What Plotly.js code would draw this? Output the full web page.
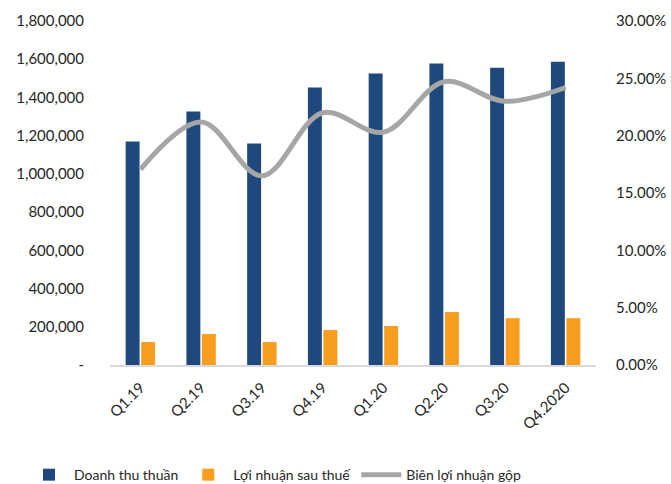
<!DOCTYPE html>
<html><head><meta charset="utf-8">
<script src="https://cdn.plot.ly/plotly-3.0.1.min.js"></script>
<style>html,body{margin:0;padding:0;background:#fff}#c{width:671px;height:484px}</style>
</head><body><div id="c"></div>
<script>
const categories = ["Q1.19","Q2.19","Q3.19","Q4.19","Q1.20","Q2.20","Q3.20","Q4.2020"];
const revenue = [1170000,1326000,1159000,1452000,1525000,1577000,1556000,1587000];
const profit = [120000,162000,120000,183000,204000,277000,245000,245000];
const grossMargin = [0.1706,0.212,0.165,0.220,0.203,0.247,0.230,0.242];
const leftTickVals = [0,200000,400000,600000,800000,1000000,1200000,1400000,1600000,1800000];
const leftTickText = ["-","200,000","400,000","600,000","800,000","1,000,000","1,200,000","1,400,000","1,600,000","1,800,000"];
const names = ["Doanh thu thuần","Lợi nhuận sau thuế","Biên lợi nhuận gộp"];

const font = {family:"Lato, 'Open Sans', sans-serif", size:15, color:"#262626"};
const data = [
  {type:"bar", x:categories, y:revenue, name:names[0], marker:{color:"#1F497D"}},
  {type:"bar", x:categories, y:profit, name:names[1], marker:{color:"#F99D1F"}},
  {type:"scatter", mode:"lines", x:categories, y:grossMargin, name:names[2], yaxis:"y2",
   line:{color:"#A6A6A6", width:5, shape:"spline", smoothing:1}}
];
const layout = {
  width:671, height:484,
  margin:{l:110, r:75, t:21, b:119, autoexpand:false},
  paper_bgcolor:"#fff", plot_bgcolor:"#fff",
  font:font,
  barmode:"group", bargap:0.49, bargroupgap:0.1,
  showlegend:true,
  legend:{orientation:"h", x:-0.177, y:-0.32, xanchor:"left", yanchor:"middle",
          font:{family:"Lato, 'Open Sans', sans-serif", size:14, color:"#262626"}, itemwidth:40, traceorder:"normal"},
  xaxis:{showgrid:false, showline:true, linecolor:"#D9D9D9", linewidth:2, tickangle:-45,
         ticks:"outside", ticklen:6, tickcolor:"rgba(0,0,0,0)", tickfont:{size:15}},
  yaxis:{range:[0,1800000], tickvals:leftTickVals, ticktext:leftTickText, showgrid:false, zeroline:false,
         ticks:"outside", ticklen:22, tickcolor:"rgba(0,0,0,0)"},
  yaxis2:{range:[0,0.30], dtick:0.05, tickformat:".2%", overlaying:"y", side:"right", showgrid:false, zeroline:false,
          ticks:"outside", ticklen:16, tickcolor:"rgba(0,0,0,0)"}
};
Plotly.newPlot("c", data, layout, {displayModeBar:false, staticPlot:true});
</script></body></html>
